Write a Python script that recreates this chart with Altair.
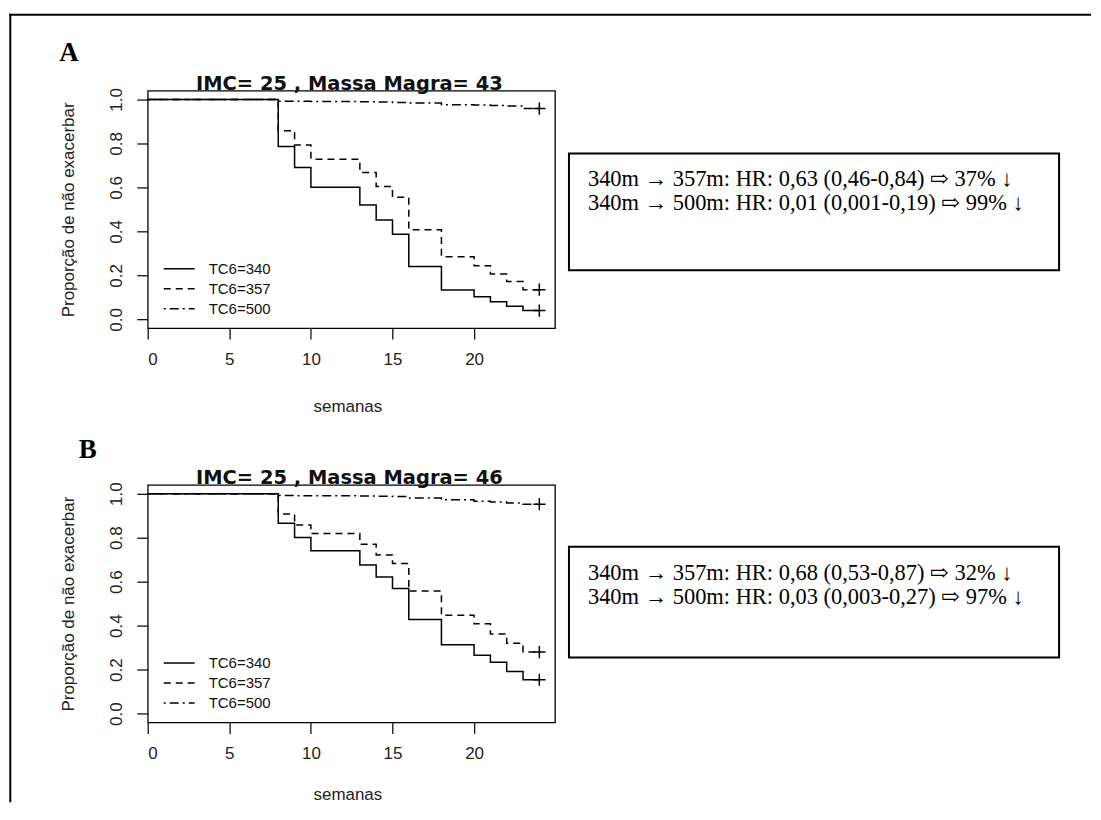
import altair as alt
import pandas as pd

# ---------------- data ----------------
weeks = [0, 8, 9, 10, 13, 14, 15, 16, 18, 20, 21, 22, 23, 24]
groups = ["TC6=340", "TC6=357", "TC6=500"]

a_340 = [1.0, 0.786, 0.690, 0.601, 0.520, 0.452, 0.387, 0.240, 0.133, 0.103, 0.080, 0.060, 0.040, 0.040]
a_357 = [1.0, 0.857, 0.793, 0.728, 0.668, 0.604, 0.555, 0.407, 0.285, 0.244, 0.206, 0.172, 0.135, 0.135]
a_500 = [1.0, 0.992, 0.991, 0.990, 0.989, 0.988, 0.986, 0.983, 0.976, 0.974, 0.972, 0.970, 0.958, 0.958]

b_340 = [1.0, 0.866, 0.801, 0.740, 0.676, 0.621, 0.569, 0.428, 0.313, 0.265, 0.234, 0.192, 0.154, 0.154]
b_357 = [1.0, 0.907, 0.858, 0.819, 0.770, 0.721, 0.682, 0.557, 0.447, 0.408, 0.362, 0.320, 0.280, 0.280]
b_500 = [1.0, 0.992, 0.991, 0.990, 0.989, 0.988, 0.987, 0.980, 0.972, 0.966, 0.962, 0.958, 0.952, 0.952]

titles = ["IMC= 25 , Massa Magra= 43", "IMC= 25 , Massa Magra= 46"]
letters = ["A", "B"]
box_text_a = ["340m \u2192 357m: HR: 0,63 (0,46-0,84) \u21e8 37% \u2193",
              "340m \u2192 500m: HR: 0,01 (0,001-0,19) \u21e8 99% \u2193"]
box_text_b = ["340m \u2192 357m: HR: 0,68 (0,53-0,87) \u21e8 32% \u2193",
              "340m \u2192 500m: HR: 0,03 (0,003-0,27) \u21e8 97% \u2193"]
x_ticks = [0, 5, 10, 15, 20]
y_ticks = [0.0, 0.2, 0.4, 0.6, 0.8, 1.0]
x_title = "semanas"
y_title = "Propor\u00e7\u00e3o de n\u00e3o exacerbar"

# ---------------- layout constants ----------------
W, H = 408, 238
XMAX = 24.96
SANS = "Liberation Sans, Arial, sans-serif"
SERIF = "Liberation Serif, Times New Roman, DejaVu Serif, DejaVu Sans, serif"
PLUS = "M-1,0L1,0M0,-1L0,1"


def km_frame(series):
    rows = []
    for g, vals in zip(groups, series):
        for w, v in zip(weeks, vals):
            rows.append({"semana": w, "prop": v, "grupo": g})
    return pd.DataFrame(rows)


def one():
    return pd.DataFrame({"k": [0]})


def panel(series, title, lines, letter, letter_pos, box, xtitle_y, frame=False):
    df = km_frame(series)
    x = alt.X(
        "semana:Q",
        scale=alt.Scale(domain=[0, XMAX], nice=False, zero=False),
        axis=alt.Axis(values=x_ticks, title=x_title, titleX=W / 2 - 4, titleY=xtitle_y,
                      titleBaseline="alphabetic", titleAlign="center"),
    )
    y = alt.Y(
        "prop:Q",
        scale=alt.Scale(domain=[-0.04, 1.04], nice=False, zero=False),
        axis=alt.Axis(values=y_ticks, format=".1f", title=y_title,
                      labelAngle=-90, labelAlign="center", labelBaseline="alphabetic",
                      labelPadding=15, titleX=-74, titleY=H / 2,
                      titleAngle=-90, titleAlign="center", titleBaseline="alphabetic"),
    )
    dash = alt.StrokeDash(
        "grupo:N",
        scale=alt.Scale(domain=groups, range=[[1, 0], [7, 5], [2, 4, 9, 4]]),
        legend=alt.Legend(orient="none", legendX=24, legendY=171, title=None,
                          symbolType="M-3,0L3,0", symbolSize=106,
                          symbolStrokeWidth=1.5, symbolStrokeColor="black",
                          labelFont=SANS, labelFontSize=15, labelColor="#111",
                          labelOffset=22, rowPadding=4, padding=0),
    )
    curves = alt.Chart(df).mark_line(
        interpolate="step-after", color="black", strokeWidth=1.5
    ).encode(x=x, y=y, strokeDash=dash)

    cens = alt.Chart(df).transform_filter(alt.datum.semana == 24).mark_point(
        shape=PLUS, size=150, filled=False, color="black", strokeWidth=1.5, opacity=1
    ).encode(x="semana:Q", y="prop:Q")

    ttl = alt.Chart(one()).mark_text(
        font="DejaVu Sans", fontWeight="bold", fontSize=19.5, color="#111",
        align="center", baseline="alphabetic"
    ).encode(x=alt.value(W / 2 - 2), y=alt.value(-1), text=alt.value(title))

    bx0, by0, bx1, by1 = box
    rect = alt.Chart(one()).mark_rect(
        fill="white", fillOpacity=0, stroke="black", strokeWidth=2
    ).encode(x=alt.value(bx0), x2=alt.value(bx1), y=alt.value(by0), y2=alt.value(by1))

    txt = alt.Chart(pd.DataFrame({"t": ["\n".join(lines)]})).mark_text(
        font=SERIF, fontSize=22.5, color="black", align="left", baseline="alphabetic",
        lineBreak="\n", lineHeight=24
    ).encode(x=alt.value(bx0 + 19), y=alt.value(by0 + 33), text="t:N")

    let = alt.Chart(one()).mark_text(
        font=SERIF, fontWeight="bold", fontSize=27, color="black",
        align="center", baseline="alphabetic"
    ).encode(x=alt.value(letter_pos[0]), y=alt.value(letter_pos[1]), text=alt.value(letter))

    layers = [curves, cens, ttl, rect, txt, let]
    if frame:
        vline = alt.Chart(one()).mark_rule(color="black", strokeWidth=2, strokeCap="square").encode(
            x=alt.value(-137.7), y=alt.value(-76), y2=alt.value(712))
        hline = alt.Chart(one()).mark_rule(color="black", strokeWidth=2, strokeCap="square").encode(
            x=alt.value(-137.7), x2=alt.value(944), y=alt.value(-76))
        layers += [vline, hline]
    return alt.layer(*layers).properties(width=W, height=H)


pa = panel([a_340, a_357, a_500], titles[0], box_text_a, letters[0], (-79, -30),
           (422, 63, 913, 180), 84, frame=True)
pb = panel([b_340, b_357, b_500], titles[1], box_text_b, letters[1], (-60, -27),
           (422, 62, 913, 173), 77)

chart = alt.vconcat(pa, pb, spacing=157, bounds="flush").resolve_scale(
    strokeDash="independent"
).resolve_legend(
    strokeDash="independent"
).properties(
    padding={"left": 0, "top": 3, "right": 0, "bottom": 0}
).configure_view(stroke="black", strokeWidth=1.3).configure_axis(
    domain=False, grid=False, ticks=True, tickSize=11, tickColor="#111", tickWidth=1.3,
    labelFont=SANS, labelFontSize=17, labelColor="#222", labelPadding=12,
    titleFont=SANS, titleFontSize=17, titleFontWeight="normal", titleColor="#222",
).configure_axisX(labelPadding=12).configure_axisY(labelPadding=15)

chart.save("out.html", embed_options={"renderer": "svg", "actions": False})
